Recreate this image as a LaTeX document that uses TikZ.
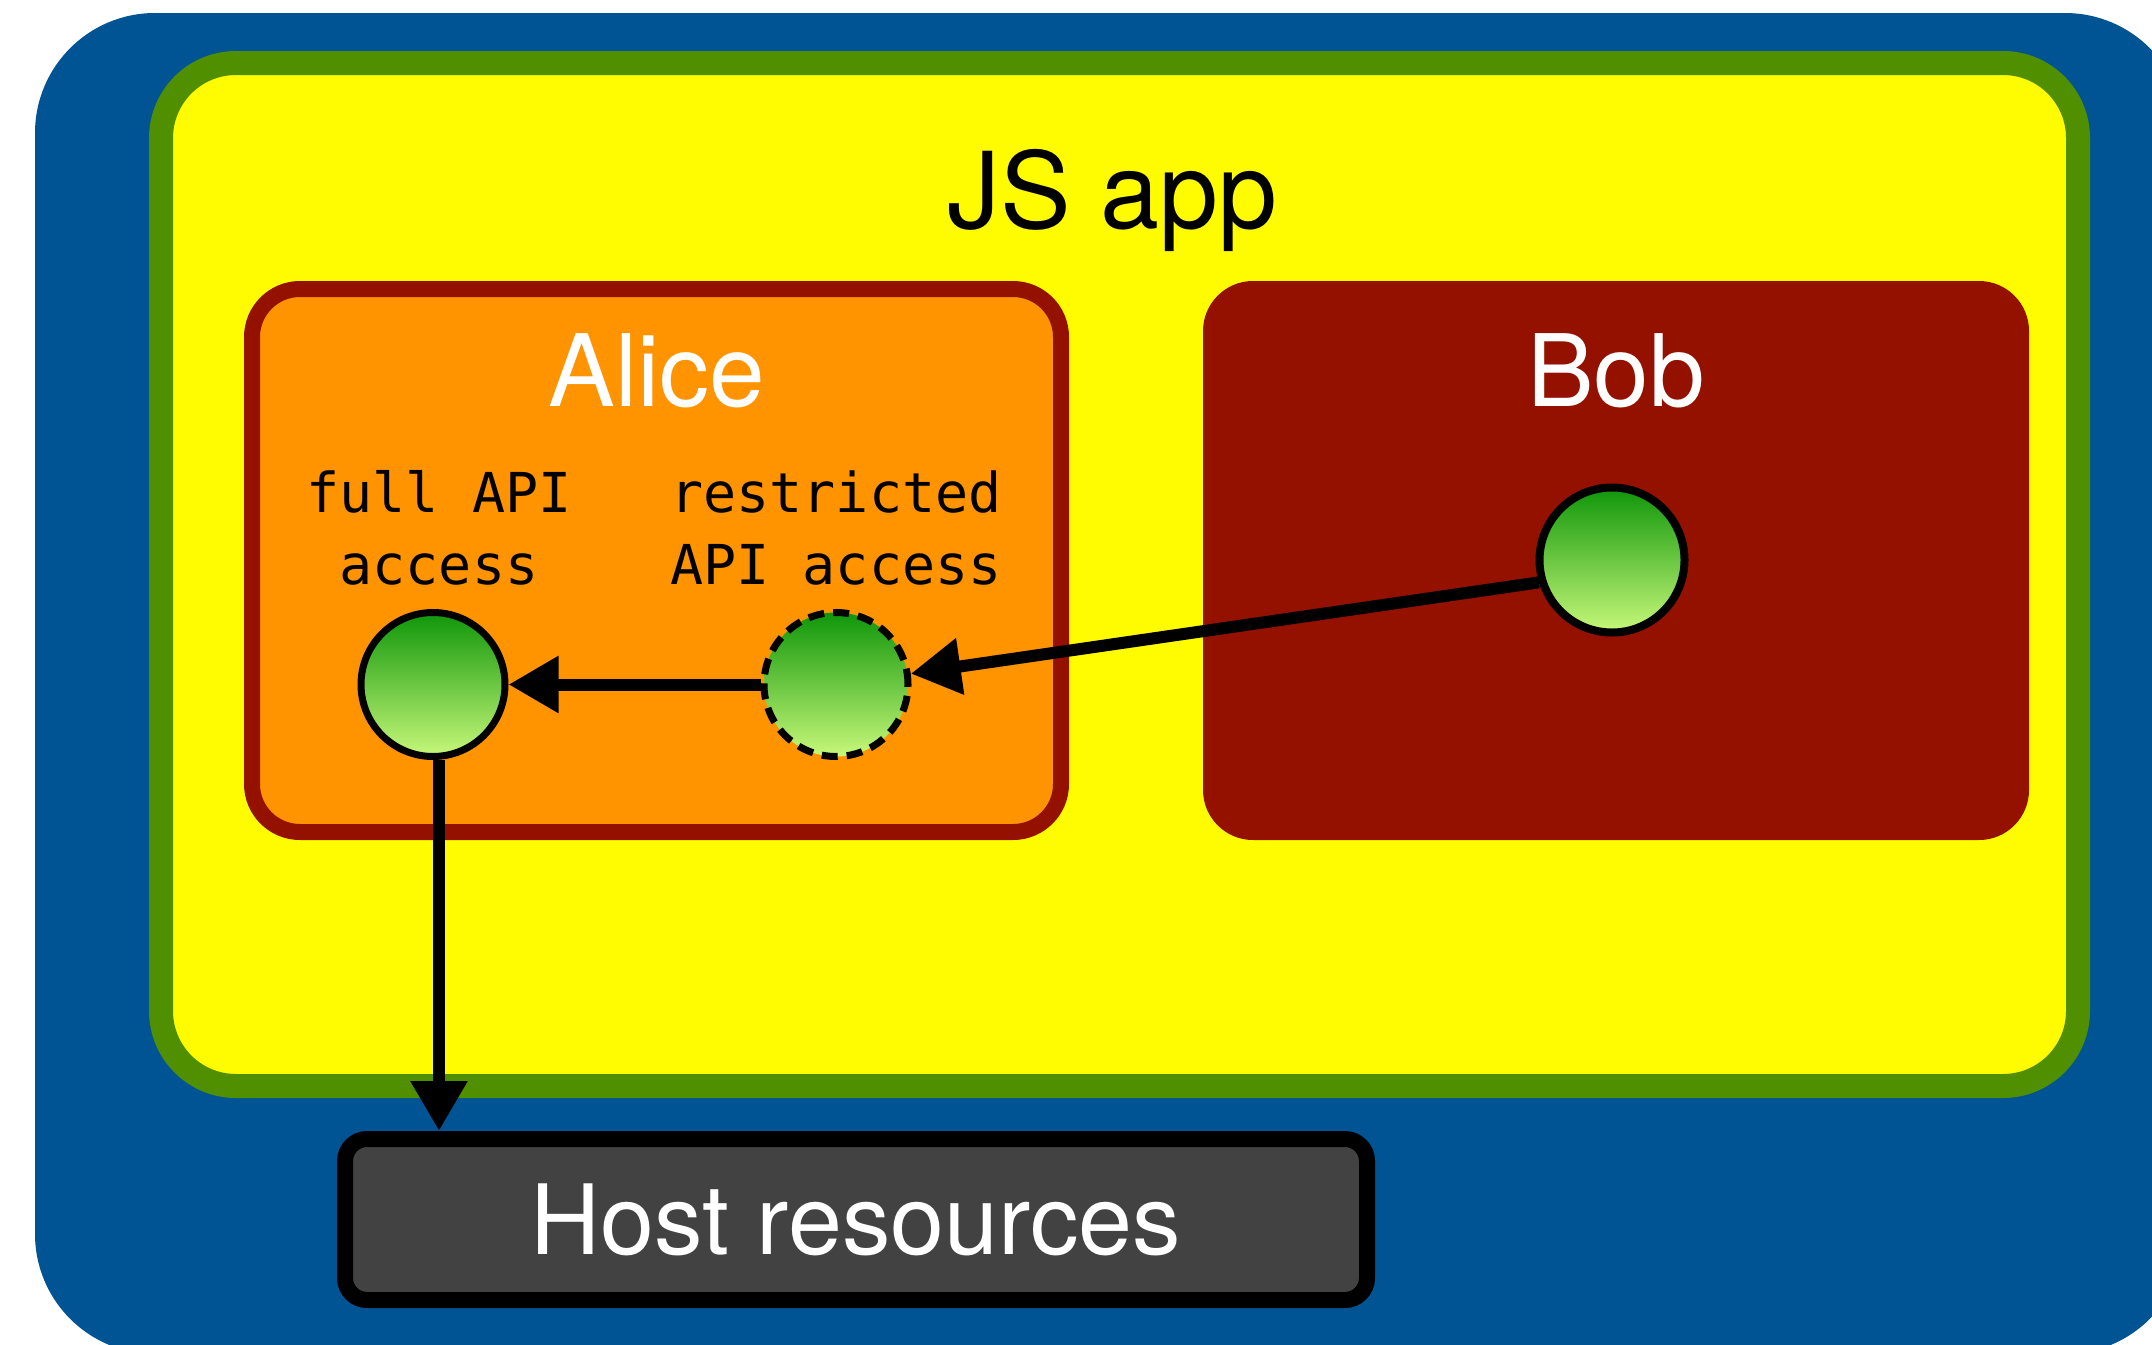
\documentclass[tikz,border=0pt]{standalone}
\usepackage{fontspec}
\setmainfont{TeX Gyre Heros}
\newfontfamily\codefont{DejaVu Sans Mono}
\usetikzlibrary{arrows.meta}
\definecolor{ocean}{HTML}{005493}
\definecolor{fern}{HTML}{4F8F00}
\definecolor{lemon}{HTML}{FFFB00}
\definecolor{cayenne}{HTML}{941100}
\definecolor{tangerine}{HTML}{FF9300}
\definecolor{tungsten}{HTML}{424242}
\definecolor{dottop}{HTML}{0F960A}
\definecolor{dotbot}{HTML}{C8F87A}
\begin{document}
\begin{tikzpicture}[x=1pt,y=-1pt,
  panel/.style={rectangle, inner sep=0pt},
  dot/.style={circle, inner sep=0pt, minimum size=144pt, draw=black, line width=7pt,
              top color=dottop, bottom color=dotbot},
  conn/.style={draw=black, line width=12pt, -{Triangle[length=50pt,width=54pt]}},
  title/.style={anchor=base, font=\fontsize{100}{110}\selectfont},
  code/.style={align=center, font=\codefont\fontsize{55}{72}\selectfont}]
\useasboundingbox (0,0) rectangle (2152,1344);
\clip (0,0) rectangle (2152,1344);
% outer host area
\node[panel, fill=ocean, rounded corners=120pt, minimum width=2150pt, minimum height=1341pt] (host area) at (1110,683.5) {};
% JS app
\node[panel, fill=lemon, draw=fern, line width=24pt, rounded corners=75pt, minimum width=1917pt, minimum height=1023pt] (jsapp) at (1119.5,574.5) {};
\node[title, font=\fontsize{106}{116}\selectfont] (jslabel) at (1112,228) {JS app};
% Alice
\node[panel, fill=tangerine, draw=cayenne, line width=16pt, rounded corners=48pt, minimum width=809pt, minimum height=543pt] (alice) at (656.5,560.5) {};
\node[title, text=white] (alicelabel) at (657,406) {Alice};
% Bob
\node[panel, fill=cayenne, rounded corners=50pt, minimum width=826pt, minimum height=559pt] (bob) at (1616,560.5) {};
\node[title, text=white] (boblabel) at (1616,406) {Bob};
% API labels
\node[code] (fulllabel) at (439,528) {full API\\access};
\node[code] (restrlabel) at (836,528) {restricted\\API access};
% dots
\node[dot] (full) at (433,684.5) {};
\node[dot, dash pattern=on 16pt off 9pt] (restr) at (836,684.5) {};
\node[dot, line width=8pt, minimum size=145pt] (bobdot) at (1612,560) {};
% host resources
\node[panel, fill=tungsten, draw=black, line width=16pt, rounded corners=22pt, minimum width=1022pt, minimum height=161pt,
      text=white, font=\fontsize{97}{107}\selectfont] (host) at (856,1219.5) {Host resources};
% connectors
\draw[conn] (bobdot.197) -- (restr);
\draw[conn] (restr) -- (full);
\draw[conn] ([xshift=6pt]full.south) -- ([xshift=6pt]full.south |- host.north);
\end{tikzpicture}
\end{document}
